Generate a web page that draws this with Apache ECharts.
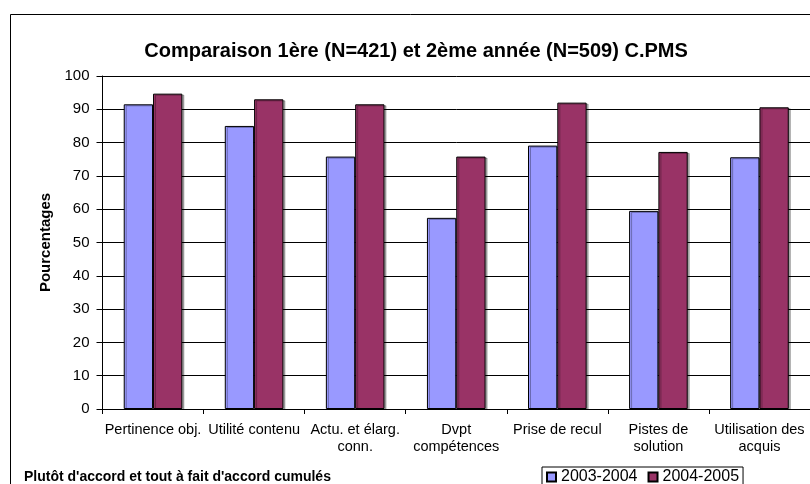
<!DOCTYPE html>
<html>
<head>
<meta charset="utf-8">
<title>Comparaison C.PMS</title>
<script src="https://cdn.jsdelivr.net/npm/echarts@6/dist/echarts.min.js"></script>
<style>
  html, body { margin: 0; padding: 0; background: #fff; }
  #chartId { width: 810px; height: 484px; }
</style>
</head>
<body>
<div id="chartId"></div>
<script>
// categories (x axis)
var categories = ['Pertinence obj.', 'Utilité contenu', 'Actu. et élarg.\nconn.', 'Dvpt\ncompétences',
  'Prise de recul', 'Pistes de\nsolution', 'Utilisation des\nacquis'];
// series values
var serieNames = ['2003-2004', '2004-2005'];
var values2003 = [91.5, 85.0, 75.8, 57.4, 79.1, 59.5, 75.6];
var values2004 = [94.7, 93.0, 91.5, 75.8, 92.0, 77.2, 90.6];
var serieColors = ['#9999ff', '#993366'];
// y axis ticks
var yMin = 0, yMax = 100, yStep = 10;

var titleText = 'Comparaison 1ère (N=421) et 2ème année (N=509) C.PMS';
var footText = 'Plutôt d\'accord et tout à fait d\'accord cumulés';
var fontName = 'Liberation Sans, Arial, sans-serif';

function buildChart() {
  var data = [values2003, values2004];
  var option = {
    backgroundColor: '#ffffff',
    animation: false,
    title: [{
      text: titleText,
      left: 416,
      top: 41,
      padding: 0,
      textAlign: 'center',
      textStyle: { fontFamily: fontName, fontSize: 20, fontWeight: 'bold', color: '#000' }
    }, {
      text: footText,
      left: 24,
      top: 470,
      padding: 0,
      textStyle: { fontFamily: fontName, fontSize: 14, fontWeight: 'bold', color: '#000' }
    }],
    // cadre du graphique (coupé à droite et en bas)
    graphic: [{
      type: 'rect',
      z: -1,
      shape: { x: 10.5, y: 14.5, width: 900, height: 600 },
      style: { fill: 'none', stroke: '#000', lineWidth: 1 }
    }],
    legend: {
      left: 542,
      top: 467,
      padding: [2, 4, 2, 4],
      itemWidth: 9,
      itemHeight: 9,
      itemGap: 10,
      borderColor: '#000',
      borderWidth: 1,
      icon: 'rect',
      data: serieNames,
      textStyle: { fontFamily: fontName, fontSize: 16, color: '#000' }
    },
    grid: {
      left: 102.5,
      top: 76,
      width: 711,
      bottom: 75,
      containLabel: false
    },
    xAxis: [{
      type: 'category',
      data: categories,
      boundaryGap: true,
      axisLine: { lineStyle: { color: '#000', width: 1 } },
      axisTick: { show: true, length: 5, lineStyle: { color: '#000' } },
      axisLabel: {
        margin: 12,
        interval: 0,
        fontFamily: fontName,
        fontSize: 14.5,
        lineHeight: 17,
        color: '#000'
      }
    }],
    yAxis: [{
      type: 'value',
      min: yMin,
      max: yMax,
      interval: yStep,
      name: 'Pourcentages',
      nameLocation: 'middle',
      nameRotate: 90,
      nameGap: 44,
      nameTextStyle: { fontFamily: fontName, fontSize: 15, fontWeight: 'bold', color: '#000' },
      axisLine: { show: true, lineStyle: { color: '#000', width: 1 } },
      axisTick: { show: true, length: 6, lineStyle: { color: '#000' } },
      axisLabel: { margin: 13, fontFamily: fontName, fontSize: 15, color: '#000' },
      splitLine: { show: true, lineStyle: { color: '#000', width: 1 } }
    }],
    series: function () {
      var serie = [];
      for (var i = 0; i < serieNames.length; i++) {
        serie.push({
          name: serieNames[i],
          type: 'bar',
          data: data[i],
          barGap: '0%',
          barCategoryGap: '42%',
          itemStyle: {
            color: serieColors[i],
            borderColor: '#000',
            borderWidth: 1,
            shadowColor: 'rgba(0,0,0,0.3)',
            shadowOffsetX: 2,
            shadowOffsetY: 1,
            shadowBlur: 0
          }
        });
      }
      return serie;
    }()
  };

  var myChart = echarts.init(document.getElementById('chartId'), null, { renderer: 'canvas' });
  myChart.setOption(option);
}

buildChart();
</script>
</body>
</html>
